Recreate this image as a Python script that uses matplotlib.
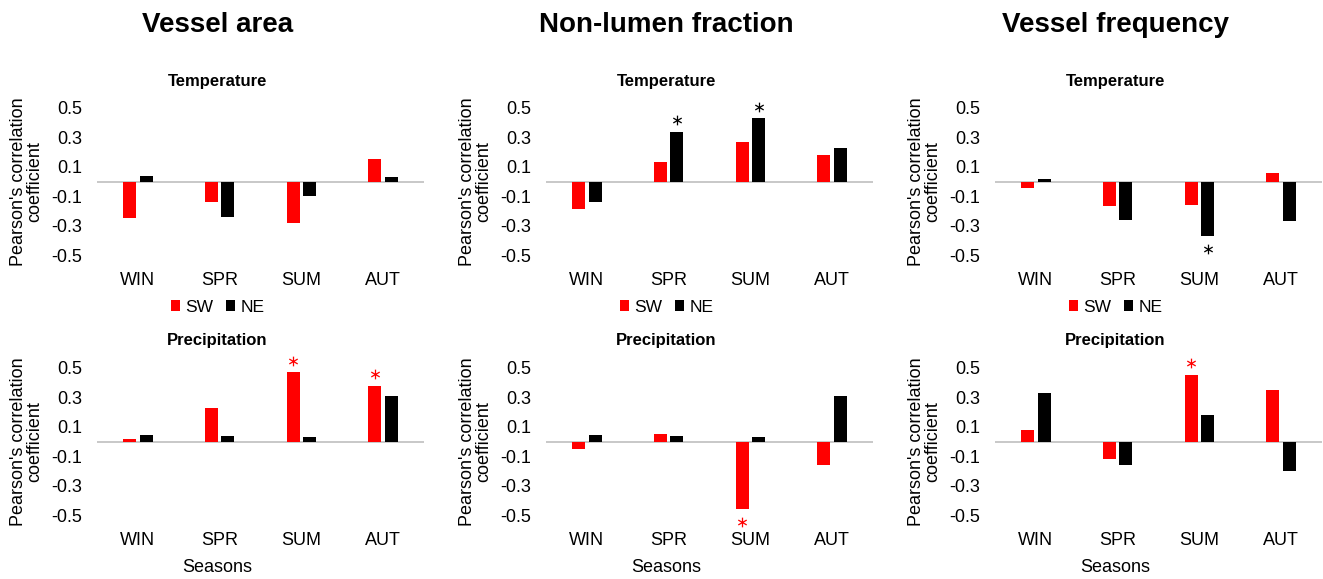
import numpy as np
import matplotlib
matplotlib.use('Agg')
import matplotlib.pyplot as plt

plt.rcParams['font.family'] = ['Liberation Sans', 'DejaVu Sans']

seasons = ['WIN', 'SPR', 'SUM', 'AUT']
columns = ['Vessel area', 'Non-lumen fraction', 'Vessel frequency']
rows = ['Temperature', 'Precipitation']

# Temperature correlations
va_temp_sw = [-0.25, -0.14, -0.28, 0.15]
va_temp_ne = [0.04, -0.24, -0.10, 0.03]
nlf_temp_sw = [-0.19, 0.13, 0.27, 0.18]
nlf_temp_ne = [-0.14, 0.34, 0.43, 0.23]
vf_temp_sw = [-0.045, -0.17, -0.16, 0.06]
vf_temp_ne = [0.015, -0.26, -0.37, -0.27]

# Precipitation correlations
va_prec_sw = [0.015, 0.23, 0.47, 0.38]
va_prec_ne = [0.045, 0.04, 0.03, 0.31]
nlf_prec_sw = [-0.05, 0.05, -0.46, -0.16]
nlf_prec_ne = [0.045, 0.04, 0.03, 0.31]
vf_prec_sw = [0.08, -0.12, 0.455, 0.35]
vf_prec_ne = [0.33, -0.16, 0.18, -0.20]

# significant bars: (site, season index)
va_temp_sig = []
nlf_temp_sig = [('NE', 1), ('NE', 2)]
vf_temp_sig = [('NE', 2)]
va_prec_sig = [('SW', 2), ('SW', 3)]
nlf_prec_sig = [('SW', 2)]
vf_prec_sig = [('SW', 2)]

data = [
    [(va_temp_sw, va_temp_ne, va_temp_sig), (nlf_temp_sw, nlf_temp_ne, nlf_temp_sig), (vf_temp_sw, vf_temp_ne, vf_temp_sig)],
    [(va_prec_sw, va_prec_ne, va_prec_sig), (nlf_prec_sw, nlf_prec_ne, nlf_prec_sig), (vf_prec_sw, vf_prec_ne, vf_prec_sig)],
]

W, H = 1323, 579
fig = plt.figure(figsize=(W / 100, H / 100), dpi=100)

lefts = [97, 546, 995]
tops = [108, 368]        # pixel y of +0.5
ax_w, ax_h = 327, 147
x = np.arange(len(seasons))
bw = 0.16

for r in range(2):
    for c in range(3):
        sw, ne, sig = data[r][c]
        ax = fig.add_axes([lefts[c] / W, 1 - (tops[r] + ax_h) / H, ax_w / W, ax_h / H])
        ax.bar(x - 0.1, sw, bw, color='#ff0000', label='SW')
        ax.bar(x + 0.1, ne, bw, color='#000000', label='NE')
        ax.axhline(0, color='#bfbfbf', lw=1.2, zorder=0)
        # asterisks for significant correlations
        for site, i in sig:
            vals = sw if site == 'SW' else ne
            xo = -0.1 if site == 'SW' else 0.1
            col = '#ff0000' if site == 'SW' else '#000000'
            v = vals[i]
            yy = v + 0.08 if v > 0 else v - 0.09
            ax.plot(i + xo, yy, marker=r'$\ast$', ms=7, mew=0, color=col,
                    clip_on=False, linestyle='none')
        ax.set_xlim(-0.5, 3.5)
        ax.set_ylim(-0.5, 0.5)
        ax.set_yticks([-0.5, -0.3, -0.1, 0.1, 0.3, 0.5])
        ax.set_yticklabels(['-0.5', '-0.3', '-0.1', '0.1', '0.3', '0.5'])
        ax.set_xticks(x)
        ax.set_xticklabels(seasons)
        ax.tick_params(axis='both', length=0, labelsize=13)
        ax.tick_params(axis='y', pad=10.5)
        ax.tick_params(axis='x', pad=12, labelsize=13)
        for s in ax.spines.values():
            s.set_visible(False)
        ax.set_ylabel("Pearson's correlation\ncoefficient", fontsize=13, labelpad=6,
                      linespacing=0.95)

        cx = (lefts[c] + ax_w / 2 - 43) / W
        fig.text(cx, 1 - (tops[r] - 27) / H, rows[r], ha='center', va='center',
                 fontsize=12, fontweight='bold')
        if r == 0:
            fig.text(cx, 1 - 25 / H, columns[c], ha='center', va='center',
                     fontsize=20, fontweight='bold')
            ax.legend(loc='center', bbox_to_anchor=(cx, 1 - 307 / H),
                      bbox_transform=fig.transFigure, ncol=2, frameon=False,
                      fontsize=12.5, handlelength=0.55, handleheight=0.55,
                      handletextpad=0.3, columnspacing=0.7)
        else:
            fig.text(cx, 1 - 568 / H, 'Seasons', ha='center', va='center', fontsize=13)

fig.savefig('out.png', dpi=100)
